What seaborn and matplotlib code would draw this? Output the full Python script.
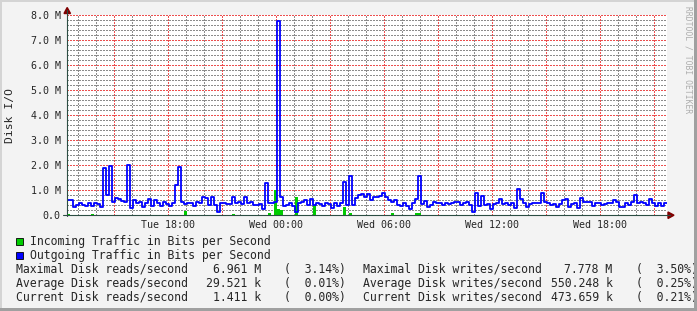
import matplotlib
matplotlib.use("Agg")
import numpy as np
import pandas as pd
import matplotlib.pyplot as plt
import seaborn as sns
from matplotlib.ticker import MultipleLocator, FixedLocator
from matplotlib.patches import Rectangle, Polygon
from matplotlib.lines import Line2D

# ---------------- data ----------------
START_HOUR = -11.61          # window start, hours relative to Wed 00:00 (Tue ~12:23)
STEP_HOURS = 1.0 / 6.0       # 10-minute samples

# Outgoing (disk writes), in M
outgoing = [
    0.60, 0.60, 0.33, 0.40, 0.49, 0.40, 0.36, 0.47, 0.36, 0.47,
    0.44, 0.33, 1.87, 0.80, 1.96, 0.53, 0.67, 0.63, 0.57, 0.53,
    2.00, 0.27, 0.60, 0.49, 0.53, 0.33, 0.49, 0.63, 0.36, 0.60,
    0.47, 0.36, 0.53, 0.44, 0.36, 0.47, 1.20, 1.93, 0.53, 0.44,
    0.47, 0.49, 0.36, 0.53, 0.47, 0.73, 0.67, 0.40, 0.73, 0.40,
    0.13, 0.49, 0.47, 0.44, 0.44, 0.71, 0.47, 0.53, 0.44, 0.71,
    0.47, 0.53, 0.40, 0.40, 0.44, 0.23, 1.27, 0.47, 0.49, 0.53,
    7.78, 0.73, 0.36, 0.40, 0.47, 0.36, 0.13, 0.47, 0.53, 0.60,
    0.40, 0.63, 0.40, 0.49, 0.44, 0.36, 0.47, 0.44, 0.27, 0.49,
    0.36, 0.49, 1.33, 0.40, 1.56, 0.40, 0.67, 0.80, 0.84, 0.73,
    0.84, 0.60, 0.73, 0.73, 0.76, 0.87, 0.73, 0.60, 0.53, 0.60,
    0.40, 0.36, 0.49, 0.36, 0.23, 0.47, 0.63, 1.56, 0.44, 0.55,
    0.33, 0.40, 0.53, 0.49, 0.47, 0.40, 0.47, 0.44, 0.49, 0.53,
    0.53, 0.40, 0.47, 0.53, 0.40, 0.13, 0.87, 0.36, 0.76, 0.40,
    0.44, 0.23, 0.44, 0.49, 0.63, 0.44, 0.47, 0.40, 0.49, 0.27,
    1.03, 0.63, 0.47, 0.33, 0.44, 0.47, 0.49, 0.47, 0.87, 0.53,
    0.47, 0.40, 0.44, 0.33, 0.44, 0.60, 0.63, 0.31, 0.44, 0.49,
    0.27, 0.67, 0.53, 0.53, 0.53, 0.36, 0.49, 0.49, 0.40, 0.44,
    0.49, 0.49, 0.60, 0.53, 0.33, 0.31, 0.47, 0.40, 0.53, 0.80,
    0.49, 0.53, 0.49, 0.40, 0.63, 0.47, 0.36, 0.47, 0.36, 0.47,
]

# Incoming (disk reads), in M: non-zero samples (index -> value)
incoming_idx = [0, 8, 39, 55, 67, 69, 70, 71, 76, 82, 92, 94, 108, 116, 117]
incoming_val = [0.04, 0.04, 0.15, 0.05, 0.07, 1.00, 0.24, 0.20, 0.70, 0.40,
                0.31, 0.09, 0.08, 0.07, 0.08]

x_tick_hours = [-6, 0, 6, 12, 18]
x_tick_labels = ["Tue 18:00", "Wed 00:00", "Wed 06:00", "Wed 12:00", "Wed 18:00"]
y_ticks = [0, 1, 2, 3, 4, 5, 6, 7, 8]
y_tick_labels = ["0.0", "1.0 M", "2.0 M", "3.0 M", "4.0 M", "5.0 M", "6.0 M", "7.0 M", "8.0 M"]

legend_labels = ["Incoming Traffic in Bits per Second", "Outgoing Traffic in Bits per Second"]
read_labels = ["Maximal Disk reads/second", "Average Disk reads/second", "Current Disk reads/second"]
read_values = ["6.961 M", "29.521 k", "1.411 k"]
read_pct = ["3.14%", "0.01%", "0.00%"]
write_labels = ["Maximal Disk writes/second", "Average Disk writes/second", "Current Disk writes/second"]
write_values = ["7.778 M", "550.248 k", "473.659 k"]
write_pct = ["3.50%", "0.25%", "0.21%"]

COL_IN = "#00CC00"
COL_OUT = "#0000FF"

# ---------------- build frames ----------------
n = len(outgoing)
incoming = np.zeros(n)
incoming[incoming_idx] = incoming_val
t = START_HOUR + np.arange(n + 1) * STEP_HOURS
out_ext = np.append(outgoing, outgoing[-1])
in_ext = np.append(incoming, incoming[-1])
df = pd.DataFrame({"hour": t, "outgoing": out_ext, "incoming": in_ext})

# ---------------- figure ----------------
sns.set_style("white")
plt.rcParams["font.family"] = ["DejaVu Sans Mono"]

W, H = 697, 311
fig = plt.figure(figsize=(W / 100, H / 100), dpi=100, facecolor="#F3F3F3")

def fx(px):
    return px / W

def fy(py):
    return 1 - py / H

ax = fig.add_axes([fx(67), fy(215), (667 - 67) / W, 200 / H])
ax.set_facecolor("white")

ax.fill_between(df["hour"], df["incoming"], step="post", color=COL_IN, lw=0, zorder=2)
sns.lineplot(data=df, x="hour", y="outgoing", drawstyle="steps-post", color=COL_OUT,
             lw=1.3, estimator=None, sort=False, ax=ax, zorder=3)

ax.set_xlim(START_HOUR, START_HOUR + n * STEP_HOURS)
ax.set_ylim(0, 8)
ax.set_xlabel("")
ax.set_ylabel("")

# grid: x major every 3h (labelled every 6h), minor every hour; y major 1M, minor 0.2M
major_x = np.arange(-9, 22, 3)
ax.xaxis.set_major_locator(FixedLocator(major_x))
ax.set_xticklabels([x_tick_labels[x_tick_hours.index(h)] if h in x_tick_hours else ""
                    for h in major_x])
ax.xaxis.set_minor_locator(MultipleLocator(1))
ax.yaxis.set_major_locator(FixedLocator(y_ticks))
ax.set_yticklabels(y_tick_labels)
ax.yaxis.set_minor_locator(MultipleLocator(0.2))

ax.set_axisbelow(True)
ax.grid(True, which="major", color="#EC4F4F", lw=0.72, linestyle=(0, (1.4, 1.4)),
        antialiased=False, zorder=0)
ax.grid(True, which="minor", color="#8C8C8C", lw=0.72, linestyle=(0, (1.4, 1.4)),
        antialiased=False, zorder=0)

ax.tick_params(axis="x", which="major", length=2.2, width=0.72, color="#EE5050",
               direction="out", pad=1.5, labelsize=7.2)
ax.tick_params(axis="x", which="minor", length=1.5, width=0.72, color="#909090", direction="out")
ax.tick_params(axis="y", which="major", length=1.5, width=0.72, color="#EE5050",
               direction="out", pad=3.0, labelsize=7.2)
ax.tick_params(axis="y", which="minor", length=1.5, width=0.72, color="#909090", direction="out")
for s in ax.spines.values():
    s.set_visible(False)

AXIS_COL = "#2C4D43"
ARROW_COL = "#7F0000"
fig.add_artist(Line2D([fx(67), fx(67)], [fy(216), fy(10)], color=AXIS_COL, lw=0.8,
                      transform=fig.transFigure))
fig.add_artist(Line2D([fx(63), fx(670)], [fy(215), fy(215)], color=AXIS_COL, lw=0.8,
                      transform=fig.transFigure))
fig.add_artist(Polygon([[fx(64), fy(13.5)], [fx(70.5), fy(13.5)], [fx(67.2), fy(7.5)]],
                       closed=True, color=ARROW_COL, transform=fig.transFigure))
fig.add_artist(Polygon([[fx(668), fy(212)], [fx(668), fy(218.5)], [fx(674), fy(215.2)]],
                       closed=True, color=ARROW_COL, transform=fig.transFigure))

# y label and watermark
fig.text(fx(10), fy(115), "Disk I/O", rotation=90, ha="center", va="center", fontsize=8.2)
fig.text(fx(688), fy(60), "RRDTOOL / TOBI OETIKER", rotation=270, ha="center", va="center",
         fontsize=5.8, color="#ADADAD")

# legend
FS = 8.3
rows = [241.7, 255.0]
for label, col, yy in zip(legend_labels, [COL_IN, COL_OUT], rows):
    fig.add_artist(Rectangle((fx(16), fy(yy + 3.5)), 7 / W, 7 / H, transform=fig.transFigure,
                             fc=col, ec="black", lw=0.6))
    fig.text(fx(30), fy(yy), label, ha="left", va="center", fontsize=FS)

stat_rows = [269.3, 283.3, 297.3]
for k, yy in enumerate(stat_rows):
    fig.text(fx(15.5), fy(yy), read_labels[k], ha="left", va="center", fontsize=FS)
    fig.text(fx(261.5), fy(yy), read_values[k], ha="right", va="center", fontsize=FS)
    fig.text(fx(284), fy(yy), f"({read_pct[k]:>7})", ha="left", va="center", fontsize=FS)
    fig.text(fx(362.5), fy(yy), write_labels[k], ha="left", va="center", fontsize=FS)
    fig.text(fx(612.5), fy(yy), write_values[k], ha="right", va="center", fontsize=FS)
    fig.text(fx(636), fy(yy), f"({write_pct[k]:>7})", ha="left", va="center", fontsize=FS)

# 3D frame
for (x0, y0, w, h, c) in [
    (0, 0, W, 2, "#D4D4D4"),      # top
    (0, 0, 2, H, "#D4D4D4"),      # left
    (0, H - 3, W, 3, "#A0A0A0"),  # bottom
    (W - 3, 0, 3, H, "#A0A0A0"),  # right
]:
    fig.add_artist(Rectangle((fx(x0), fy(y0 + h)), w / W, h / H, transform=fig.transFigure,
                             fc=c, ec="none", zorder=10))

fig.savefig("out.png", dpi=100, facecolor=fig.get_facecolor())
